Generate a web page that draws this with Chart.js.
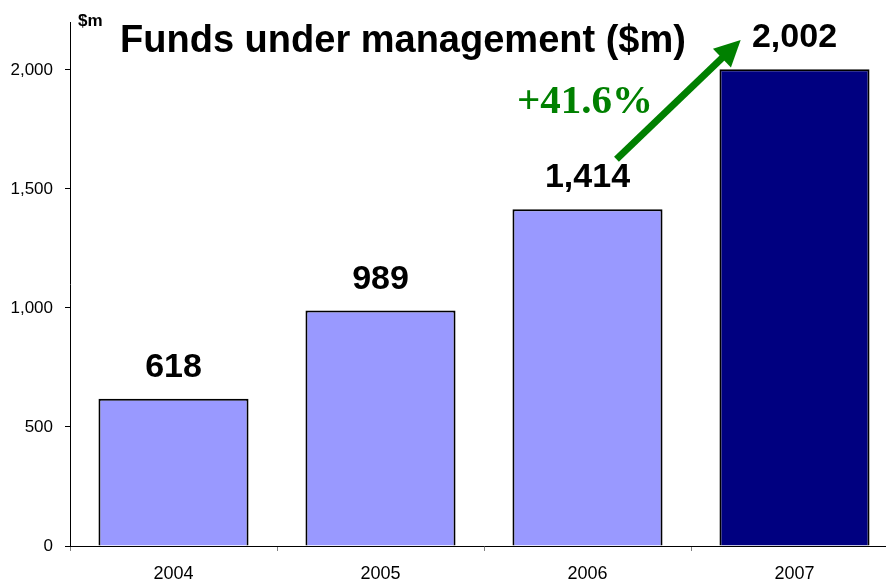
<!DOCTYPE html>
<html>
<head>
<meta charset="utf-8">
<script src="https://cdn.jsdelivr.net/npm/chart.js@4"></script>
<style>
  html, body { margin: 0; padding: 0; background: #fff; overflow: hidden; }
  #wrap { position: absolute; left: 0; top: 0; width: 898px; height: 581px; }
</style>
</head>
<body>
<div id="wrap"><canvas id="c"></canvas></div>
<script>
const categories = ['2004', '2005', '2006', '2007'];
const funds = [618, 989, 1414, 2002];
const barColors = ['#9999FF', '#9999FF', '#9999FF', '#000080'];
const yTicks = [0, 500, 1000, 1500, 2000];
const titleText = 'Funds under management ($m)';
const unitText = '$m';
const growthText = '+41.6%';
// arrow anchored in data space: [categoryIndex, value]
const arrowFrom = [2.14, 1624];
const arrowTo = [2.74, 2125];

const FONT = 'Arial, "Liberation Sans", sans-serif';

const annot = {
  id: 'annot',
  afterDatasetsDraw(chart) {
    const ctx = chart.ctx;
    const xs = chart.scales.x, ys = chart.scales.y;
    const meta = chart.getDatasetMeta(0);
    ctx.save();
    // value labels
    ctx.fillStyle = '#000';
    ctx.font = 'bold 34px ' + FONT;
    ctx.textAlign = 'center';
    ctx.textBaseline = 'alphabetic';
    meta.data.forEach((bar, i) => {
      ctx.fillText(funds[i].toLocaleString('en-US'), bar.x, bar.y - 22);
    });
    // title
    ctx.font = 'bold 38px ' + FONT;
    ctx.fillText(titleText, 403, 52);
    // unit
    ctx.font = 'bold 17px ' + FONT;
    ctx.textAlign = 'left';
    ctx.fillText(unitText, 78, 26);
    // growth text
    ctx.fillStyle = '#008000';
    ctx.font = 'bold 41px "Liberation Serif", "Times New Roman", serif';
    ctx.textAlign = 'center';
    ctx.fillText(growthText, 585, 113);
    // arrow
    const pxf = (v) => xs.left + (xs.right - xs.left) * (v + 0.5) / categories.length;
    const x1 = pxf(arrowFrom[0]), y1 = ys.getPixelForValue(arrowFrom[1]);
    const x2 = pxf(arrowTo[0]), y2 = ys.getPixelForValue(arrowTo[1]);
    const ang = Math.atan2(y2 - y1, x2 - x1);
    const headLen = 26, headW = 13;
    const bx = x2 - headLen * Math.cos(ang), by = y2 - headLen * Math.sin(ang);
    ctx.strokeStyle = '#008000';
    ctx.lineWidth = 7;
    ctx.lineCap = 'butt';
    ctx.beginPath();
    ctx.moveTo(x1, y1);
    ctx.lineTo(bx + 2 * Math.cos(ang), by + 2 * Math.sin(ang));
    ctx.stroke();
    ctx.beginPath();
    ctx.moveTo(x2, y2);
    ctx.lineTo(bx - headW * Math.sin(ang), by + headW * Math.cos(ang));
    ctx.lineTo(bx + headW * Math.sin(ang), by - headW * Math.cos(ang));
    ctx.closePath();
    ctx.fillStyle = '#008000';
    ctx.fill();
    ctx.restore();
  }
};

new Chart(document.getElementById('c'), {
  type: 'bar',
  data: {
    labels: categories,
    datasets: [{
      data: funds,
      backgroundColor: barColors,
      borderColor: '#000',
      borderWidth: 2,
      borderSkipped: 'bottom',
      categoryPercentage: 1,
      barPercentage: 0.725
    }]
  },
  options: {
    responsive: true,
    maintainAspectRatio: false,
    animation: false,
    devicePixelRatio: 1,
    layout: { padding: { top: 19, right: 0, left: 0, bottom: 0 } },
    plugins: { legend: { display: false }, tooltip: { enabled: false }, title: { display: false } },
    scales: {
      x: {
        grid: { drawOnChartArea: false, drawTicks: true, tickLength: 5, color: '#808080', offset: true },
        border: { color: '#000', width: 1 },
        ticks: { color: '#000', font: { family: FONT, size: 18 }, padding: 12, maxRotation: 0 },
        afterFit(s) { s.height = 35; }
      },
      y: {
        min: 0, max: 2200,
        afterBuildTicks(s) { s.ticks = yTicks.map(v => ({ value: v })); },
        grid: { drawOnChartArea: false, drawTicks: true, tickLength: 5, color: '#000' },
        border: { color: '#000', width: 1 },
        ticks: {
          color: '#000', font: { family: FONT, size: 17 }, padding: 12,
          callback: (v) => Number(v).toLocaleString('en-US')
        },
        afterFit(s) { s.width = 70; }
      }
    }
  },
  plugins: [annot]
});
</script>
</body>
</html>
